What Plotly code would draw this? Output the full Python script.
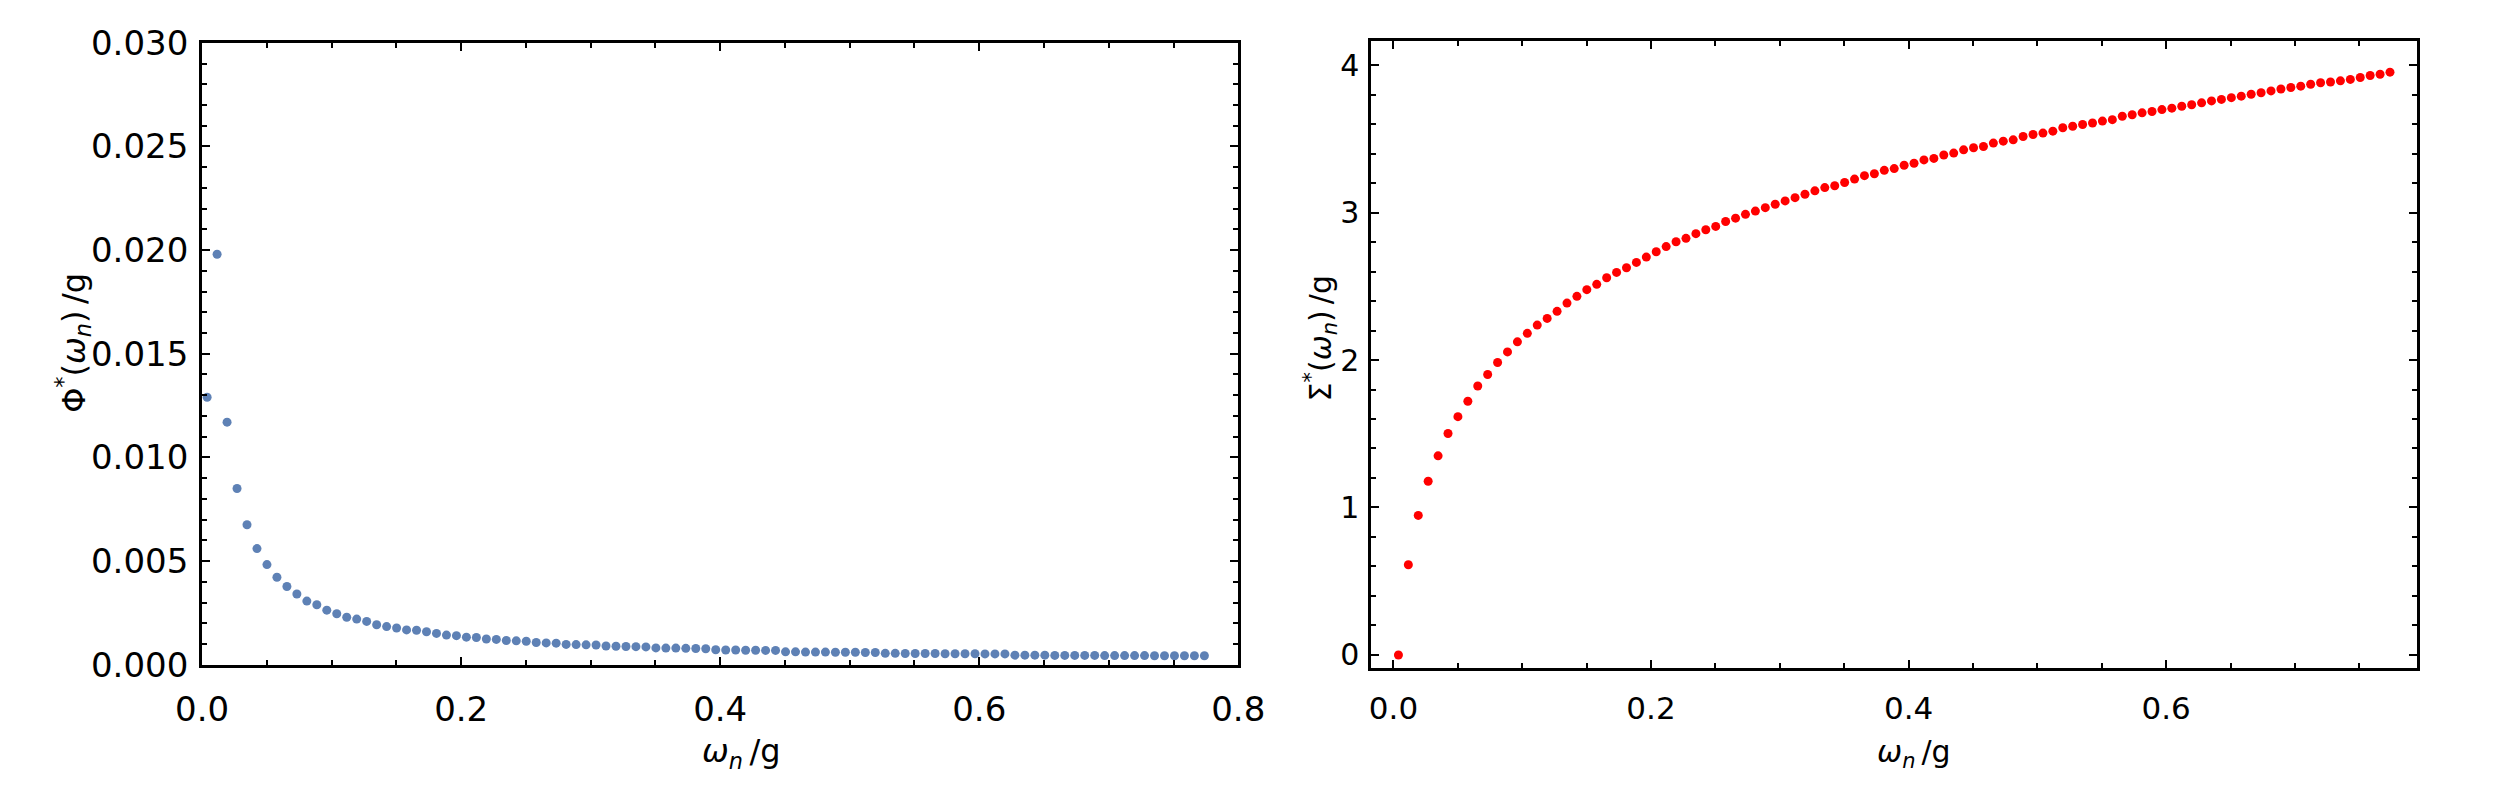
import plotly.graph_objects as go

# Matsubara frequencies omega_n / g (shared by both panels)
omega = [
    0.00385, 0.01155, 0.01925, 0.02695, 0.03465, 0.04235, 0.05005, 0.05775, 0.06545, 0.07315,
    0.08085, 0.08855, 0.09625, 0.10395, 0.11165, 0.11935, 0.12705, 0.13475, 0.14245, 0.15015,
    0.15785, 0.16555, 0.17325, 0.18095, 0.18865, 0.19635, 0.20405, 0.21175, 0.21945, 0.22715,
    0.23485, 0.24255, 0.25025, 0.25795, 0.26565, 0.27335, 0.28105, 0.28875, 0.29645, 0.30415,
    0.31185, 0.31955, 0.32725, 0.33495, 0.34265, 0.35035, 0.35805, 0.36575, 0.37345, 0.38115,
    0.38885, 0.39655, 0.40425, 0.41195, 0.41965, 0.42735, 0.43505, 0.44275, 0.45045, 0.45815,
    0.46585, 0.47355, 0.48125, 0.48895, 0.49665, 0.50435, 0.51205, 0.51975, 0.52745, 0.53515,
    0.54285, 0.55055, 0.55825, 0.56595, 0.57365, 0.58135, 0.58905, 0.59675, 0.60445, 0.61215,
    0.61985, 0.62755, 0.63525, 0.64295, 0.65065, 0.65835, 0.66605, 0.67375, 0.68145, 0.68915,
    0.69685, 0.70455, 0.71225, 0.71995, 0.72765, 0.73535, 0.74305, 0.75075, 0.75845, 0.76615,
    0.77385,
]

# Phi*(omega_n)/g  (left panel)
phi = [
    0.0129, 0.0198, 0.0117, 0.0085, 0.00675, 0.0056, 0.00483, 0.00422, 0.00377, 0.00341,
    0.00307, 0.00289, 0.00263, 0.00246, 0.00229, 0.00220, 0.00209, 0.00193, 0.00184, 0.00177,
    0.00168, 0.00166, 0.00159, 0.00151, 0.00143, 0.00140, 0.00133, 0.00131, 0.00124, 0.00122,
    0.00117, 0.00115, 0.00113, 0.00107, 0.00105, 0.00104, 0.00098, 0.00097, 0.00096, 0.00095,
    0.00090, 0.00089, 0.00088, 0.00087, 0.00086, 0.00081, 0.00080, 0.00080, 0.00079, 0.00078,
    0.00077, 0.00072, 0.00071, 0.00071, 0.00070, 0.00070, 0.00069, 0.00069, 0.00062, 0.00062,
    0.00061, 0.00061, 0.00061, 0.00060, 0.00060, 0.00060, 0.00059, 0.00059, 0.00055, 0.00055,
    0.00054, 0.00054, 0.00054, 0.00054, 0.00053, 0.00053, 0.00053, 0.00053, 0.00052, 0.00052,
    0.00052, 0.00046, 0.00046, 0.00046, 0.00046, 0.00045, 0.00045, 0.00045, 0.00045, 0.00045,
    0.00044, 0.00044, 0.00044, 0.00044, 0.00044, 0.00043, 0.00043, 0.00043, 0.00043, 0.00043,
    0.00043,
]

# Sigma*(omega_n)/g  (right panel)
sigma = [
    0.0, 0.612, 0.946, 1.178, 1.350, 1.502, 1.616, 1.720, 1.824, 1.902,
    1.983, 2.055, 2.123, 2.181, 2.237, 2.282, 2.330, 2.386, 2.432, 2.477,
    2.513, 2.558, 2.594, 2.626, 2.662, 2.698, 2.734, 2.769, 2.802, 2.825,
    2.857, 2.883, 2.906, 2.939, 2.962, 2.988, 3.010, 3.033, 3.056, 3.079,
    3.101, 3.124, 3.147, 3.169, 3.182, 3.204, 3.227, 3.250, 3.263, 3.286,
    3.298, 3.321, 3.334, 3.357, 3.367, 3.390, 3.403, 3.425, 3.439, 3.448,
    3.471, 3.484, 3.493, 3.516, 3.529, 3.539, 3.552, 3.575, 3.585, 3.597,
    3.607, 3.620, 3.630, 3.653, 3.663, 3.676, 3.685, 3.698, 3.708, 3.721,
    3.731, 3.744, 3.757, 3.767, 3.779, 3.789, 3.802, 3.812, 3.825, 3.838,
    3.848, 3.857, 3.870, 3.880, 3.885, 3.893, 3.903, 3.916, 3.929, 3.938,
    3.952,
]

left_xticks = [0.0, 0.2, 0.4, 0.6, 0.8]
left_yticks = [0.000, 0.005, 0.010, 0.015, 0.020, 0.025, 0.030]
right_xticks = [0.0, 0.2, 0.4, 0.6]
right_yticks = [0, 1, 2, 3, 4]

W, H = 2500, 792
FONT = "DejaVu Sans"

fig = go.Figure()
fig.add_trace(go.Scatter(x=omega, y=phi, mode="markers", xaxis="x", yaxis="y",
                         marker=dict(color="#5E81B5", size=9), showlegend=False))
fig.add_trace(go.Scatter(x=omega, y=sigma, mode="markers", xaxis="x2", yaxis="y2",
                         marker=dict(color="#FF0000", size=9), showlegend=False))


def ax(fsize, **kw):
    d = dict(showline=True, linecolor="black", linewidth=3, mirror="allticks",
             ticks="inside", ticklen=8, tickwidth=2, tickcolor="black",
             showgrid=False, zeroline=False,
             tickfont=dict(family=FONT, size=fsize, color="black"))
    d.update(kw)
    return d


def minor(step):
    return dict(dtick=step, tick0=0, ticks="inside", ticklen=5, tickwidth=2, tickcolor="black")


fig.update_layout(
    width=W, height=H, margin=dict(l=0, r=0, t=0, b=0),
    paper_bgcolor="white", plot_bgcolor="white",
    xaxis=ax(34, domain=[179 / W, 1238 / W], range=[0, 0.8], anchor="y",
             tickvals=left_xticks, tickformat=".1f", ticklabelstandoff=12,
             minor=minor(0.05)),
    yaxis=ax(34, domain=[1 - 679 / H, 1 - 24 / H], range=[0, 0.03], anchor="x",
             tickvals=left_yticks, tickformat=".3f", ticklabelstandoff=4,
             minor=minor(0.001)),
    xaxis2=ax(31, domain=[1374 / W, 2443 / W], range=[-0.0172, 0.795], anchor="y2",
              tickvals=right_xticks, tickformat=".1f", ticklabelstandoff=11,
              minor=minor(0.05)),
    yaxis2=ax(30, domain=[1 - 682 / H, 1 - 22 / H], range=[-0.0855, 4.164], anchor="x2",
              tickvals=right_yticks, tickformat="d", ticklabelstandoff=3,
              minor=minor(0.2)),
)

title_font = dict(family=FONT, size=32, color="black")
fig.add_annotation(text="Φ<sup>*</sup>(<i>ω</i><sub><i>n</i></sub>)\u2009/g", xref="paper", yref="paper",
                   x=47 / W, y=1 - 340 / H, textangle=-90, showarrow=False,
                   xanchor="center", yanchor="middle", font=title_font)
fig.add_annotation(text="Σ<sup>*</sup>(<i>ω</i><sub><i>n</i></sub>)\u2009/g", xref="paper", yref="paper",
                   x=1322 / W, y=1 - 335 / H, textangle=-90, showarrow=False,
                   xanchor="center", yanchor="middle", font=dict(family=FONT, size=30, color="black"))
fig.add_annotation(text="<i>ω</i><sub><i>n</i></sub>\u2009/g", xref="paper", yref="paper",
                   x=730 / W, y=1 - 772 / H, showarrow=False,
                   xanchor="center", yanchor="middle", font=title_font)
fig.add_annotation(text="<i>ω</i><sub><i>n</i></sub>\u2009/g", xref="paper", yref="paper",
                   x=1929 / W, y=1 - 772 / H, showarrow=False,
                   xanchor="center", yanchor="middle", font=dict(family=FONT, size=30, color="black"))

fig.write_html("out.html")
